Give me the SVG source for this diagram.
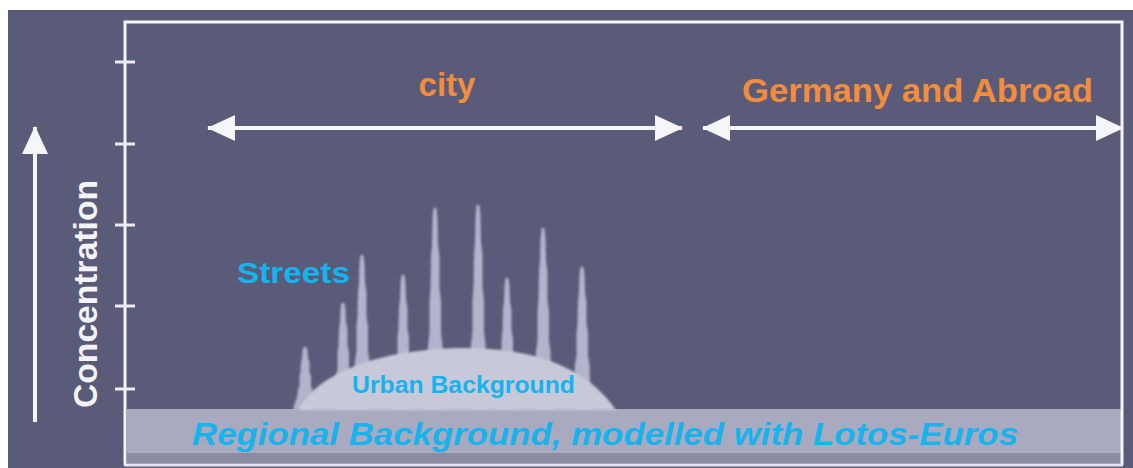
<svg xmlns="http://www.w3.org/2000/svg" xmlns:xlink="http://www.w3.org/1999/xlink" width="1133" height="468" viewBox="0 0 1133 468">
  <style>
    .frame { stroke: #f4f4f8; stroke-width: 3; fill: none; }
    .tick { stroke: #ececf2; stroke-width: 3; }
    .arrow { stroke: #f6f6f8; stroke-width: 4; fill: none; }
    .lbl { font-family: "Liberation Sans", Arial, sans-serif; font-weight: bold; }
    .orange { fill: #f28d3c; }
    .cyan { fill: #16b3ee; }
    .spike { fill: #b3b4cb; }
  </style>
  <defs>
    <!-- arrowhead used by every connector -->
    <marker id="head" viewBox="0 0 28 26" markerUnits="userSpaceOnUse" markerWidth="28" markerHeight="26" refX="27" refY="13" orient="auto-start-reverse">
      <path d="M0,0 L28,13 L0,26 Z" fill="#f6f6f8"/>
    </marker>
    <!-- one concentration spike, 100 units tall, scaled per street -->
    <path id="spike" d="M-1.5,0 L1.5,0 L2.5,6 L3,18 L4.5,24 L4.5,40 L6,46 L6,62 L7.5,68 L8,80 L10,88 L12,100 L-12,100 L-10,88 L-8,80 L-7,68 L-5.5,62 L-5.5,46 L-4.5,40 L-4,24 L-3,18 L-2.5,6 Z"/>
    <filter id="soft" x="-20%" y="-5%" width="140%" height="110%">
      <feGaussianBlur stdDeviation="0.8"/>
    </filter>
  </defs>

  <!-- canvas -->
  <rect x="0" y="0" width="1133" height="468" fill="#ffffff"/>
  <rect x="8" y="10" width="1125" height="458" fill="#5a5b79"/>

  <!-- regional background band -->
  <g id="regional-band">
    <rect x="127" y="409" width="994" height="44" fill="#a9aabf"/>
    <rect x="127" y="453" width="994" height="10" fill="#8b8ca3"/>
  </g>

  <!-- street spikes -->
  <g id="streets" class="spike" filter="url(#soft)">
    <use xlink:href="#spike" transform="translate(305,347) scale(1,0.63)"/>
    <use xlink:href="#spike" transform="translate(343,303) scale(1,1.07)"/>
    <use xlink:href="#spike" transform="translate(362,255) scale(1,1.55)"/>
    <use xlink:href="#spike" transform="translate(403,275) scale(1,1.35)"/>
    <use xlink:href="#spike" transform="translate(435,208) scale(1,2.02)"/>
    <use xlink:href="#spike" transform="translate(478,205) scale(1,2.05)"/>
    <use xlink:href="#spike" transform="translate(507,278) scale(1,1.32)"/>
    <use xlink:href="#spike" transform="translate(543,228) scale(1,1.82)"/>
    <use xlink:href="#spike" transform="translate(582,267) scale(1,1.43)"/>
  </g>

  <!-- urban background dome -->
  <g id="urban-background">
    <path d="M298,410 C318,372 380,350 458,348 C530,347 585,365 616,410 Z" fill="#c7c8d8" filter="url(#soft)"/>
    <text class="lbl cyan" x="352" y="393" font-size="24" textLength="223" lengthAdjust="spacingAndGlyphs">Urban Background</text>
  </g>

  <!-- chart frame and concentration axis ticks -->
  <g id="frame">
    <path class="frame" d="M125,465 L125,22 L1122,22 L1122,465"/>
    <line x1="124" y1="465" x2="1123" y2="465" stroke="#e6e6f0" stroke-width="3"/>
    <line class="tick" x1="115" y1="62" x2="135" y2="62"/>
    <line class="tick" x1="115" y1="144" x2="135" y2="144"/>
    <line class="tick" x1="115" y1="225" x2="135" y2="225"/>
    <line class="tick" x1="115" y1="306" x2="135" y2="306"/>
    <line class="tick" x1="115" y1="389" x2="135" y2="389"/>
  </g>

  <!-- labels -->
  <g id="label-city">
    <text class="lbl orange" x="447" y="96" font-size="33" text-anchor="middle">city</text>
  </g>
  <g id="label-germany">
    <text class="lbl orange" x="742" y="102" font-size="33" textLength="351" lengthAdjust="spacingAndGlyphs">Germany and Abroad</text>
  </g>
  <g id="label-streets">
    <text class="lbl cyan" x="237" y="283" font-size="30" textLength="113" lengthAdjust="spacingAndGlyphs">Streets</text>
  </g>
  <g id="label-concentration">
    <text class="lbl" fill="#f4f4f8" x="97" y="294" font-size="33" text-anchor="middle" transform="rotate(-90 97 294)" textLength="228" lengthAdjust="spacingAndGlyphs">Concentration</text>
  </g>
  <g id="label-regional">
    <text class="lbl cyan" x="192" y="445" font-size="31" font-style="italic" textLength="826" lengthAdjust="spacingAndGlyphs">Regional Background, modelled with Lotos-Euros</text>
  </g>

  <!-- connectors -->
  <g id="connectors">
    <line class="arrow" x1="208" y1="128" x2="682" y2="128" marker-start="url(#head)" marker-end="url(#head)"/>
    <line class="arrow" x1="703" y1="128" x2="1123" y2="128" marker-start="url(#head)" marker-end="url(#head)"/>
    <line class="arrow" x1="35" y1="422" x2="35" y2="127" marker-end="url(#head)"/>
  </g>
</svg>
